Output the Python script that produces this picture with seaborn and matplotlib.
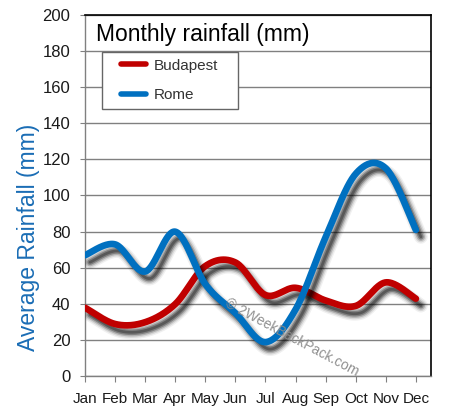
import numpy as np
import pandas as pd
import matplotlib
matplotlib.use("Agg")
import matplotlib.pyplot as plt
import matplotlib.patheffects as pe
from matplotlib.lines import Line2D
from matplotlib.legend_handler import HandlerLine2D
import seaborn as sns

months = ["Jan", "Feb", "Mar", "Apr", "May", "Jun", "Jul", "Aug", "Sep", "Oct", "Nov", "Dec"]
budapest = [38, 29, 30, 40, 61, 63, 45, 49, 42, 39, 52, 43]
rome = [67, 73, 58, 80, 51, 35, 19, 37, 77, 112, 115, 81]
yticks = [0, 20, 40, 60, 80, 100, 120, 140, 160, 180, 200]

RED = "#C00000"
BLUE = "#0070C0"


def smooth(values, n=40):
    """Excel-like smoothed curve (cubic Bezier, Catmull-Rom control points)."""
    v = np.asarray(values, dtype=float)
    x = np.arange(len(v), dtype=float)
    xs, ys = [], []
    for i in range(len(v) - 1):
        i0 = max(i - 1, 0)
        i3 = min(i + 2, len(v) - 1)
        p0x, p0y = x[i], v[i]
        p3x, p3y = x[i + 1], v[i + 1]
        p1x = p0x + (x[i + 1] - x[i0]) / 6.0
        p1y = p0y + (v[i + 1] - v[i0]) / 6.0
        p2x = p3x - (x[i3] - x[i]) / 6.0
        p2y = p3y - (v[i3] - v[i]) / 6.0
        t = np.linspace(0, 1, n, endpoint=(i == len(v) - 2))
        a = (1 - t) ** 3
        b = 3 * (1 - t) ** 2 * t
        c = 3 * (1 - t) * t ** 2
        d = t ** 3
        xs.append(a * p0x + b * p1x + c * p2x + d * p3x)
        ys.append(a * p0y + b * p1y + c * p2y + d * p3y)
    return np.concatenate(xs), np.concatenate(ys)


sns.set_style("white")
plt.rcParams["font.family"] = ["Liberation Sans", "DejaVu Sans"]

fig = plt.figure(figsize=(4.51, 4.18), dpi=100)
ax = fig.add_axes([0.1885, 0.0993, 0.767, 0.866])

off = (3.6, -5.0)
shadow = [
    pe.SimpleLineShadow(offset=off, shadow_color="black", alpha=0.06, rho=1, linewidth=10),
    pe.SimpleLineShadow(offset=off, shadow_color="black", alpha=0.10, rho=1, linewidth=8),
    pe.SimpleLineShadow(offset=off, shadow_color="black", alpha=0.18, rho=1, linewidth=6),
    pe.SimpleLineShadow(offset=off, shadow_color="black", alpha=0.28, rho=1, linewidth=4),
    pe.SimpleLineShadow(offset=off, shadow_color="black", alpha=0.3, rho=1, linewidth=2),
    pe.Normal(),
]

frames = []
for name, vals in (("Budapest", budapest), ("Rome", rome)):
    sx, sy = smooth(vals)
    frames.append(pd.DataFrame({"x": sx, "y": sy, "city": name}))
df = pd.concat(frames, ignore_index=True)

for name, color in (("Budapest", RED), ("Rome", BLUE)):
    sub = df[df["city"] == name]
    sns.lineplot(data=sub, x="x", y="y", ax=ax, color=color, linewidth=4.8,
                 sort=False, estimator=None, legend=False,
                 solid_capstyle="round", solid_joinstyle="round",
                 path_effects=shadow, zorder=3)

ax.set_xlim(0, 11.5)
ax.set_ylim(0, 200)
ax.set_xticks(range(len(months)))
ax.set_xticklabels(months)
ax.set_yticks(yticks)
ax.set_yticklabels([str(t) for t in yticks])
ax.set_xlabel("")
ax.set_ylabel("Average Rainfall (mm)", fontsize=16.5, color="#1a6db5")
ax.yaxis.set_label_coords(-0.131, 0.385)

ax.yaxis.grid(True, color="#808080", linewidth=1.0)
ax.xaxis.grid(False)
ax.set_axisbelow(True)

for s in ("left", "bottom"):
    ax.spines[s].set_color("#808080")
    ax.spines[s].set_linewidth(1.0)
for s in ("top", "right"):
    ax.spines[s].set_color("black")
    ax.spines[s].set_linewidth(1.2)

ax.tick_params(axis="y", which="both", left=True, length=3.5, width=0.8, color="#808080",
               labelsize=12, labelcolor="#1a1a1a", pad=7)
ax.tick_params(axis="x", which="both", bottom=True, length=4, width=0.8, color="#808080",
               labelsize=11, labelcolor="#1a1a1a", pad=7)

ax.text(0.033, 0.945, "Monthly rainfall (mm)", transform=ax.transAxes,
        fontsize=16.5, color="black", ha="left", va="center", zorder=5)

handles = [Line2D([0], [0], color=RED, lw=4.0, solid_capstyle="round"),
           Line2D([0], [0], color=BLUE, lw=4.0, solid_capstyle="round")]
hmap = {h: HandlerLine2D(xpad=0.8) for h in handles}
leg = ax.legend(handles, ["Budapest", "Rome"], loc="upper left",
                bbox_to_anchor=(0.049, 0.5, 0.393, 0.397), mode="expand",
                borderaxespad=0, handler_map=hmap,
                fontsize=11, frameon=True, fancybox=False, shadow=False,
                handlelength=2.45, handletextpad=0.51, borderpad=0.45,
                labelspacing=1.0, labelcolor="#333333")
leg.get_frame().set_edgecolor("#666666")
leg.get_frame().set_linewidth(1.0)
leg.get_frame().set_facecolor("white")
leg.get_frame().set_alpha(1)
leg.set_zorder(6)

ax.text(6.88, 21.3, "\u00a9 2WeekBackPack.com", fontsize=10, color="#8a8a8a",
        rotation=-28, ha="center", va="center", rotation_mode="anchor", zorder=4, alpha=0.95)

fig.savefig("out.png", dpi=100)
